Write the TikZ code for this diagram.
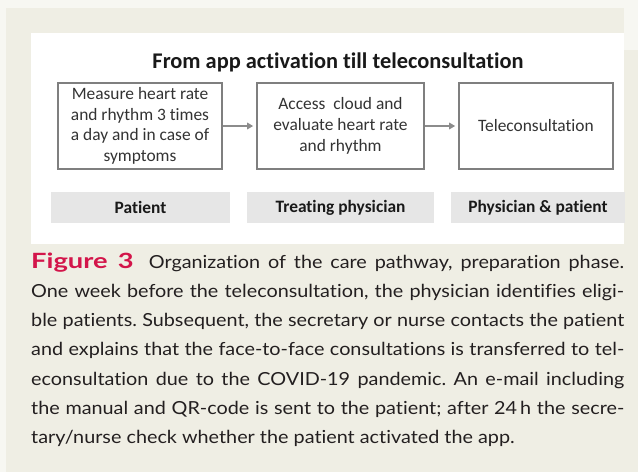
\documentclass[tikz,border=0pt]{standalone}
\usepackage{fontspec}
\usepackage{graphicx}
\usetikzlibrary{arrows.meta}
\newfontfamily\carlito[Ligatures=NoCommon]{Carlito}
\newfontfamily\capfont[FakeStretch=1.10,Ligatures=NoCommon]{Lato}
\newfontfamily\figfont[FakeStretch=1.3,Ligatures=NoCommon]{Lato Bold}
\definecolor{beige}{HTML}{EFEEE4}
\definecolor{margin}{HTML}{F7F7F2}
\definecolor{barfill}{HTML}{E6E6E6}
\definecolor{boxline}{HTML}{7F7F7F}
\definecolor{arrowgray}{HTML}{8C8C8C}
\definecolor{boxtext}{HTML}{333333}
\definecolor{figred}{HTML}{D3154A}
\definecolor{captext}{HTML}{231F20}
\newsavebox\capbox
\newcommand\capline[1]{\sbox\capbox{#1}\ifdim\wd\capbox>593pt \resizebox{593pt}{!}{\usebox\capbox}\else\makebox[593pt][s]{#1}\fi}
\tikzset{
  stepbox/.style={draw=boxline, line width=1.6pt, fill=white, inner sep=0pt, align=center,
    minimum height=86pt, text=boxtext, font=\carlito\fontsize{17.4}{20.7}\selectfont},
  rolebar/.style={fill=barfill, draw=none, inner sep=0pt, minimum height=31pt,
    text=black!90, font=\carlito\bfseries\fontsize{17.4}{20}\selectfont},
  flowarrow/.style={draw=arrowgray, line width=1.8pt, -{Triangle[length=6pt,width=6.5pt]}, shorten >=3pt},
  capnode/.style={anchor=base west, inner sep=0pt, text=captext, font=\capfont\fontsize{18}{20}\selectfont\frenchspacing}
}
\begin{document}
\begin{tikzpicture}[x=1pt,y=-1pt]
\useasboundingbox (0,0) rectangle (638,472);
% backgrounds
\fill[margin] (0,0) rectangle (638,472);
\fill[beige] (6,8) rectangle (638,472);
\fill[margin] (624,0) rectangle (638,50);
\fill[white] (31,33) rectangle (624,244);
% title
\node[inner sep=0pt, anchor=base, font=\carlito\bfseries\fontsize{22.4}{26}\selectfont, text=black!90] (title) at (338,68) {From app activation till teleconsultation};
% boxes
\node[stepbox, minimum width=164pt] (b1) at (140,126) {Measure heart rate\\and rhythm 3 times\\a day and in case of\\symptoms};
\node[stepbox, minimum width=167pt] (b2) at (340.5,126) {Access\ \ cloud and\\evaluate heart rate\\and rhythm};
\node[stepbox, minimum width=154pt] (b3) at (536,126) {Teleconsultation};
\draw[flowarrow] (b1.east) -- (b2.west);
\draw[flowarrow] (b2.east) -- (b3.west);
% role bars
\node[rolebar, minimum width=179pt] (r1) at (140.5,207.5) {Patient};
\node[rolebar, minimum width=187pt] (r2) at (340.5,207.5) {Treating physician};
\node[rolebar, minimum width=174pt] (r3) at (538,207.5) {Physician \& patient};
% caption
\node[capnode] (c1) at (31,268) {\capline{{\figfont\fontsize{21}{20}\selectfont\color{figred}Figure 3}\hspace{0.4em} Organization of the care pathway, preparation phase.}};
\node[capnode] (c2) at (31,297.3) {\capline{One week before the teleconsultation, the physician identifies eligi-}};
\node[capnode] (c3) at (31,326.6) {\capline{ble patients. Subsequent, the secretary or nurse contacts the patient}};
\node[capnode] (c4) at (31,355.9) {\capline{and explains that the face-to-face consultations is transferred to tel-}};
\node[capnode] (c5) at (31,385.2) {\capline{econsultation due to the COVID-19 pandemic. An e-mail including}};
\node[capnode] (c6) at (31,414.5) {\capline{the manual and QR-code is sent to the patient; after 24\,h the secre-}};
\node[capnode] (c7) at (31,443.8) {tary/nurse check whether the patient activated the app.};
\end{tikzpicture}
\end{document}
